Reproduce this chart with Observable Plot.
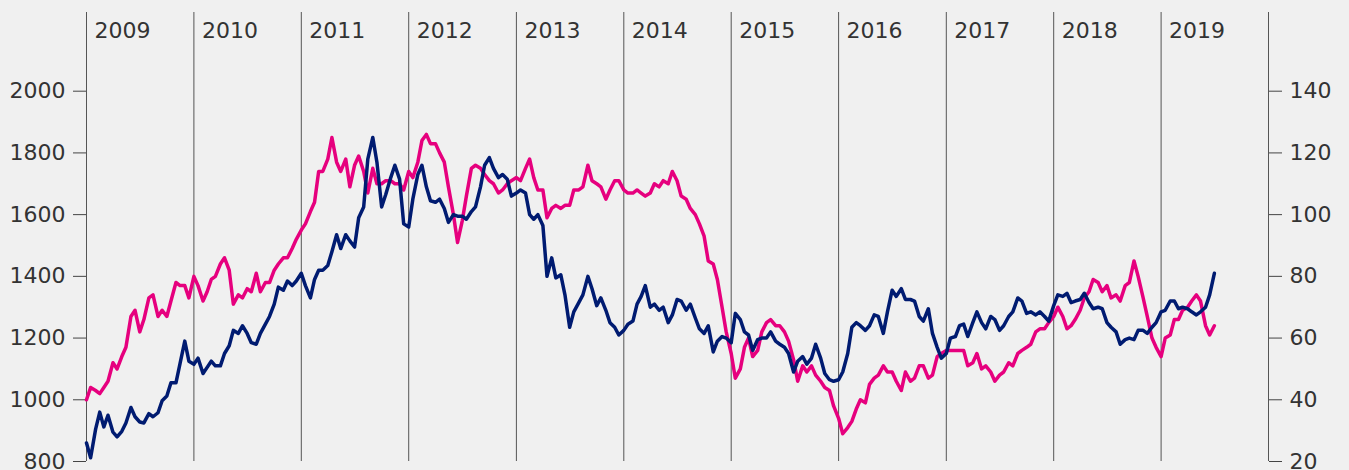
<!DOCTYPE html>
<html><head><meta charset="utf-8">
<script src="https://cdn.jsdelivr.net/npm/d3@7"></script>
<script src="https://cdn.jsdelivr.net/npm/@observablehq/plot@0.6"></script>
<style>
html,body{margin:0;padding:0;background:#f0f0f0;}
</style></head><body><div id="chart"></div>
<script>
// Semi-monthly values (1st and 15th of each month), Jan 2009 – Jul 2019
// Gold, USD/oz (left axis)
const gold2009 = [860, 812, 905, 960, 912, 950, 895, 880, 898, 925, 975, 945, 928, 925, 955, 945, 958, 997, 1012, 1055, 1055, 1118, 1190, 1125];
const gold2010 = [1115, 1135, 1085, 1105, 1125, 1110, 1110, 1150, 1175, 1225, 1215, 1240, 1215, 1185, 1180, 1215, 1245, 1270, 1310, 1365, 1355, 1385, 1370, 1385];
const gold2011 = [1410, 1370, 1330, 1390, 1420, 1420, 1435, 1480, 1535, 1490, 1535, 1515, 1495, 1590, 1625, 1780, 1850, 1770, 1625, 1665, 1720, 1760, 1715, 1570];
const gold2012 = [1560, 1650, 1730, 1760, 1690, 1645, 1640, 1650, 1620, 1575, 1600, 1595, 1595, 1585, 1610, 1625, 1690, 1760, 1785, 1750, 1720, 1730, 1715, 1660];
const gold2013 = [1670, 1680, 1670, 1600, 1585, 1600, 1565, 1400, 1460, 1395, 1405, 1340, 1235, 1285, 1315, 1340, 1400, 1360, 1305, 1330, 1290, 1250, 1235, 1210];
const gold2014 = [1225, 1245, 1255, 1310, 1335, 1370, 1300, 1310, 1290, 1300, 1250, 1275, 1325, 1320, 1290, 1310, 1265, 1230, 1215, 1240, 1155, 1190, 1205, 1200];
const gold2015 = [1185, 1280, 1260, 1220, 1210, 1160, 1195, 1200, 1200, 1220, 1190, 1180, 1170, 1150, 1090, 1125, 1140, 1115, 1135, 1180, 1135, 1085, 1065, 1060];
const gold2016 = [1065, 1090, 1150, 1235, 1250, 1240, 1225, 1240, 1275, 1270, 1215, 1285, 1355, 1335, 1360, 1325, 1325, 1320, 1270, 1255, 1295, 1215, 1170, 1135];
const gold2017 = [1150, 1200, 1205, 1240, 1245, 1205, 1250, 1285, 1250, 1230, 1270, 1260, 1225, 1240, 1270, 1285, 1330, 1320, 1280, 1285, 1275, 1285, 1270, 1255];
const gold2018 = [1305, 1340, 1335, 1345, 1315, 1320, 1325, 1345, 1315, 1295, 1300, 1295, 1250, 1235, 1220, 1180, 1195, 1200, 1195, 1225, 1225, 1215, 1235, 1250];
const gold2019 = [1285, 1290, 1320, 1320, 1295, 1300, 1295, 1285, 1275, 1285, 1300, 1340, 1410];

// Brent crude, USD/bbl (right axis)
const brent2009 = [40, 44, 43, 42, 44, 46, 52, 50, 54, 57, 67, 69, 62, 66, 73, 74, 67, 69, 67, 72, 78, 77, 77, 73];
const brent2010 = [80, 77, 72, 75, 79, 80, 84, 86, 82, 71, 74, 73, 76, 75, 81, 75, 78, 78, 82, 84, 86, 86, 89, 92];
const brent2011 = [95, 97, 101, 104, 114, 114, 118, 125, 117, 114, 118, 109, 116, 119, 114, 107, 115, 110, 110, 111, 111, 110, 110, 108];
const brent2012 = [114, 112, 117, 124, 126, 123, 123, 120, 117, 109, 100, 91, 98, 106, 115, 116, 115, 113, 111, 110, 107, 108, 110, 111];
const brent2013 = [112, 111, 115, 118, 112, 108, 108, 99, 102, 103, 102, 103, 103, 108, 108, 109, 116, 111, 110, 109, 105, 108, 111, 111];
const brent2014 = [108, 107, 107, 108, 107, 106, 107, 110, 109, 111, 110, 114, 111, 106, 105, 102, 100, 97, 93, 85, 84, 79, 70, 62];
const brent2015 = [55, 47, 50, 57, 60, 54, 56, 62, 65, 66, 64, 64, 62, 59, 53, 46, 51, 49, 51, 48, 46, 44, 43, 38];
const brent2016 = [34, 29, 31, 33, 37, 40, 39, 45, 47, 48, 51, 49, 49, 46, 43, 49, 46, 47, 51, 51, 47, 48, 54, 55];
const brent2017 = [56, 56, 56, 56, 56, 51, 52, 55, 50, 51, 49, 46, 48, 49, 52, 51, 55, 56, 57, 58, 62, 63, 63, 65];
const brent2018 = [67, 70, 67, 63, 64, 66, 69, 73, 75, 79, 78, 75, 77, 73, 74, 72, 77, 78, 85, 80, 73, 67, 60, 57];
const brent2019 = [54, 60, 61, 66, 66, 69, 70, 72, 74, 72, 64, 61, 64];

const yearLabels = [2009, 2010, 2011, 2012, 2013, 2014, 2015, 2016, 2017, 2018, 2019];
const yearLines = [2009, 2010, 2011, 2012, 2013, 2014, 2015, 2016, 2017, 2018, 2019, 2020];
const leftTicks = [800, 1000, 1200, 1400, 1600, 1800, 2000];
const rightTicks = [20, 40, 60, 80, 100, 120, 140];

const gold = [].concat(gold2009, gold2010, gold2011, gold2012, gold2013, gold2014, gold2015, gold2016, gold2017, gold2018, gold2019);
const brent = [].concat(brent2009, brent2010, brent2011, brent2012, brent2013, brent2014, brent2015, brent2016, brent2017, brent2018, brent2019);

function halfMonthDate(i) {
  const y = 2009 + Math.floor(i / 24);
  const m = Math.floor((i % 24) / 2);
  const d = i % 2 ? 15 : 1;
  return new Date(Date.UTC(y, m, d));
}
// map right-axis (oil) units onto the left-axis scale: 20 ↔ 800, 140 ↔ 2000
const toLeft = v => (v - 20) * 10 + 800;
const fromLeft = v => (v - 800) / 10 + 20;

const goldData = gold.map((v, i) => ({date: halfMonthDate(i), value: v}));
const brentData = brent.map((v, i) => ({date: halfMonthDate(i), value: toLeft(v)}));
const jan1 = y => new Date(Date.UTC(y, 0, 1));

const FONT = "DejaVu Sans, Verdana, sans-serif";

const chart = Plot.plot({
  width: 1349,
  height: 470,
  marginLeft: 86,
  marginRight: 81,
  marginTop: 12,
  marginBottom: 9,
  style: {background: "#f0f0f0", fontFamily: FONT, fontSize: "22px", color: "#333", overflow: "visible"},
  x: {type: "utc", domain: [jan1(2009), jan1(2020)], axis: null},
  y: {domain: [800, 2255], axis: null},
  marks: [
    Plot.ruleX(yearLines.map(jan1), {stroke: "#555", strokeWidth: 1}),
    Plot.axisY(leftTicks, {anchor: "left", label: null, tickSize: 13, tickPadding: 8, fontSize: 22, stroke: "#444", tickFormat: v => String(v)}),
    Plot.axisY(rightTicks.map(toLeft), {anchor: "right", label: null, tickSize: 13, tickPadding: 8, fontSize: 22, stroke: "#444", tickFormat: v => String(fromLeft(v))}),
    Plot.text(yearLabels, {x: jan1, text: d => String(d), frameAnchor: "top", textAnchor: "start", lineAnchor: "top", dx: 8, dy: 10, fontSize: 22, fill: "#333"}),
    Plot.line(brentData, {x: "date", y: "value", stroke: "#e6007e", strokeWidth: 3.5}),
    Plot.line(goldData, {x: "date", y: "value", stroke: "#001b71", strokeWidth: 3.5})
  ]
});
document.getElementById("chart").appendChild(chart);
</script>
</body></html>
